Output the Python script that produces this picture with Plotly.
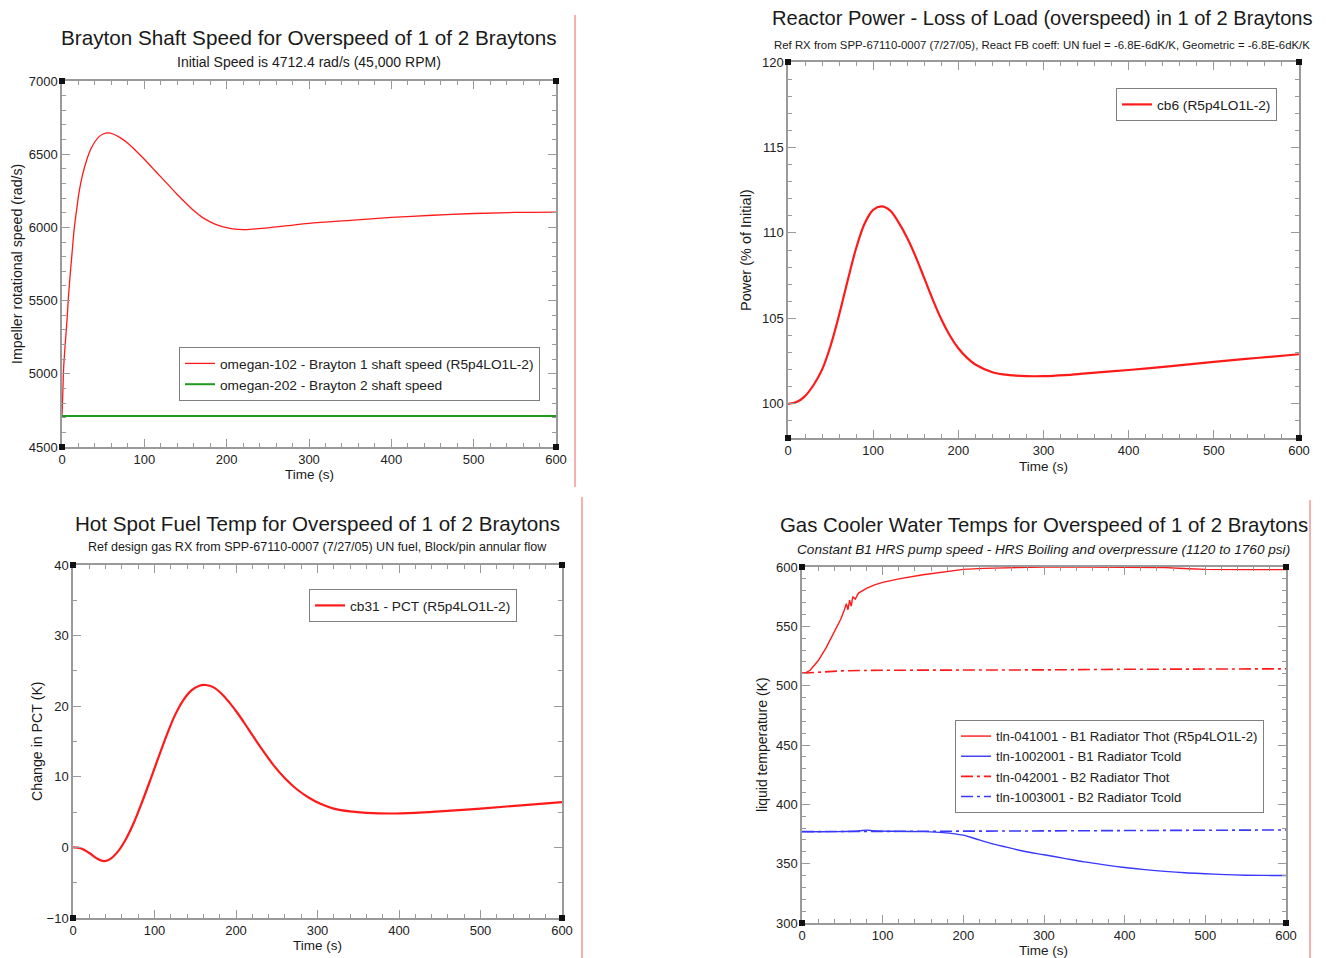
import plotly.graph_objects as go

W, H = 1326, 958
OFF = 8  # page body margin offset
FONT = "Liberation Sans"

# ---------------- Panel 1: Brayton shaft speed ----------------
t_speed1 = [0, 1, 2, 4, 6, 8, 10, 12, 15, 18, 21, 25, 30, 35, 40, 45, 50, 56, 62, 70, 80, 90,
            100, 110, 120, 130, 140, 150, 160, 170, 180, 190, 200, 210, 220, 235, 250, 275,
            300, 350, 400, 450, 500, 550, 600]
speed1 = [4712, 4870, 5040, 5210, 5360, 5540, 5680, 5810, 6000, 6130, 6250, 6360, 6460, 6535,
          6585, 6620, 6638, 6645, 6638, 6615, 6575, 6522, 6465, 6405, 6345, 6285, 6225, 6168,
          6115, 6070, 6038, 6014, 5998, 5988, 5985, 5990, 5997, 6012, 6027, 6048, 6068, 6083,
          6095, 6102, 6105]
t_speed2 = [0, 600]
speed2 = [4712.4, 4712.4]

# ---------------- Panel 2: Reactor power ----------------
t_power = [0, 10, 20, 30, 40, 50, 60, 70, 80, 90, 100, 110, 120, 130, 140, 150, 160, 170, 180,
           190, 200, 210, 220, 240, 260, 280, 300, 325, 350, 400, 450, 500, 550, 600]
power = [100.0, 100.1, 100.45, 101.1, 102.0, 103.4, 105.2, 107.2, 109.1, 110.55, 111.35, 111.55,
         111.3, 110.6, 109.7, 108.6, 107.35, 106.1, 104.95, 104.0, 103.25, 102.7, 102.3, 101.85,
         101.68, 101.62, 101.62, 101.68, 101.78, 101.98, 102.2, 102.45, 102.68, 102.9]

# ---------------- Panel 3: Hot spot fuel temp ----------------
t_pct = [0, 10, 20, 30, 38, 45, 55, 65, 75, 85, 95, 105, 115, 125, 135, 145, 155, 163, 172, 182,
         192, 202, 215, 230, 245, 260, 275, 290, 305, 320, 340, 360, 390, 420, 450, 500, 550, 600]
pct = [0, -0.15, -0.8, -1.6, -1.95, -1.7, -0.6, 1.2, 3.6, 6.5, 9.6, 12.8, 15.9, 18.7, 20.8, 22.2,
       22.9, 23.0, 22.7, 21.8, 20.5, 19.0, 16.8, 14.2, 11.8, 9.8, 8.2, 7.0, 6.1, 5.5, 5.1, 4.9,
       4.8, 4.9, 5.1, 5.5, 5.95, 6.4]

# ---------------- Panel 4: Gas cooler water temps ----------------
t_b1hot = [0, 5, 10, 20, 30, 40, 48, 52, 55, 57, 59, 61, 63, 66, 70, 80, 90, 100, 120, 150, 175,
           200, 225, 250, 300, 350, 400, 450, 480, 500, 550, 600]
b1hot = [510.5, 511, 513, 521, 532, 545, 556, 563, 569, 564, 572, 567, 575, 573, 578, 582, 585,
         587, 590, 593.5, 596, 598, 598.8, 599.3, 600, 600, 599.8, 599.5, 598.5, 598, 597.8, 597.8]
t_b1cold = [0, 40, 70, 80, 90, 120, 150, 175, 200, 215, 230, 250, 275, 300, 325, 350, 375, 400,
            425, 450, 475, 500, 525, 550, 575, 600]
b1cold = [377, 377, 377.5, 378.3, 377.6, 377.2, 377, 376.2, 374, 371, 368, 364.5, 360.5, 357.5,
          354.5, 351.5, 349, 346.8, 345, 343.5, 342.3, 341.5, 340.8, 340.3, 340.1, 340]
t_b2hot = [0, 20, 50, 100, 200, 300, 400, 500, 600]
b2hot = [510.5, 511.5, 512.5, 513, 513, 513.3, 513.8, 514, 514.2]
t_b2cold = [0, 100, 200, 300, 400, 500, 600]
b2cold = [377, 377, 377.3, 377.6, 377.9, 378.2, 378.4]

# ---------------- figure ----------------
RED = "#ff1a1a"
GREEN = "#1f9a1f"
BLUE = "#3838ff"


def PX(x):
    return (x - OFF) / W


def PY(y):
    return 1 - (y - OFF) / H


fig = go.Figure()
fig.add_trace(go.Scatter(x=t_speed1, y=speed1, mode="lines", line=dict(color=RED, width=1.3, shape="spline"),
                         name="omegan-102 - Brayton 1 shaft speed (R5p4LO1L-2)", xaxis="x", yaxis="y", legend="legend"))
fig.add_trace(go.Scatter(x=t_speed2, y=speed2, mode="lines", line=dict(color=GREEN, width=2),
                         name="omegan-202 - Brayton 2 shaft speed", xaxis="x", yaxis="y", legend="legend"))
fig.add_trace(go.Scatter(x=t_power, y=power, mode="lines", line=dict(color=RED, width=2.2, shape="spline"),
                         name="cb6 (R5p4LO1L-2)", xaxis="x2", yaxis="y2", legend="legend2"))
fig.add_trace(go.Scatter(x=t_pct, y=pct, mode="lines", line=dict(color=RED, width=2.2, shape="spline"),
                         name="cb31 - PCT (R5p4LO1L-2)", xaxis="x3", yaxis="y3", legend="legend3"))
fig.add_trace(go.Scatter(x=t_b1hot, y=b1hot, mode="lines", line=dict(color=RED, width=1.4),
                         name="tln-041001 - B1 Radiator Thot (R5p4LO1L-2)", xaxis="x4", yaxis="y4", legend="legend4"))
fig.add_trace(go.Scatter(x=t_b1cold, y=b1cold, mode="lines", line=dict(color=BLUE, width=1.4, shape="spline"),
                         name="tln-1002001 - B1 Radiator Tcold", xaxis="x4", yaxis="y4", legend="legend4"))
fig.add_trace(go.Scatter(x=t_b2hot, y=b2hot, mode="lines", line=dict(color=RED, width=1.6, dash="12px,4px,3px,4px"),
                         name="tln-042001 - B2 Radiator Thot", xaxis="x4", yaxis="y4", legend="legend4"))
fig.add_trace(go.Scatter(x=t_b2cold, y=b2cold, mode="lines", line=dict(color=BLUE, width=1.6, dash="12px,4px,3px,4px"),
                         name="tln-1003001 - B2 Radiator Tcold", xaxis="x4", yaxis="y4", legend="legend4"))

AXC = "#9a9a9a"
TICKFONT = dict(family=FONT, size=13, color="#222")


def xax(px0, px1, anchor):
    return dict(domain=[PX(px0), PX(px1)], range=[0, 600], tick0=0, dtick=100,
                ticks="inside", ticklen=8, tickwidth=1, tickcolor=AXC,
                showline=True, linecolor=AXC, linewidth=1.5, mirror="ticks",
                showgrid=False, zeroline=False, anchor=anchor, automargin=False,
                tickfont=TICKFONT,
                minor=dict(ticks="inside", ticklen=4, dtick=20, tickcolor=AXC, showgrid=False))


def yax(py_top, py_bot, rng, dtick, mdtick, anchor, tick0=None):
    return dict(domain=[PY(py_bot), PY(py_top)], range=rng,
                tick0=rng[0] if tick0 is None else tick0, dtick=dtick,
                ticks="inside", ticklen=8, tickwidth=1, tickcolor=AXC,
                showline=True, linecolor=AXC, linewidth=1.5, mirror="ticks",
                showgrid=False, zeroline=False, anchor=anchor, automargin=False,
                tickfont=TICKFONT,
                minor=dict(ticks="inside", ticklen=4, dtick=mdtick, tickcolor=AXC, showgrid=False))


layout = dict(
    width=W, height=H, margin=dict(l=0, r=0, t=0, b=0),
    paper_bgcolor="white", plot_bgcolor="white",
    font=dict(family=FONT, color="#222"),
    xaxis=xax(62, 556, "y"), yaxis=yax(81, 447, [4500, 7000], 500, 100, "x"),
    xaxis2=xax(788, 1299, "y2"), yaxis2=yax(62, 438, [98, 120], 5, 1, "x2", tick0=100),
    xaxis3=xax(73, 562, "y3"), yaxis3=yax(565, 918, [-10, 40], 10, 5, "x3"),
    xaxis4=xax(802, 1286, "y4"), yaxis4=yax(567, 923, [300, 600], 50, 10, "x4"),
)


def leg(px_right, py_top, size=13):
    return dict(x=PX(px_right), y=PY(py_top), xanchor="right", yanchor="top",
                bgcolor="white", bordercolor="#808080", borderwidth=1,
                font=dict(family=FONT, size=size, color="#222"), tracegroupgap=0, itemwidth=30)


layout["legend"] = leg(540, 347, 13.7)
layout["legend2"] = leg(1277, 88, 13.7)
layout["legend3"] = leg(517, 589, 13.7)
layout["legend4"] = leg(1264, 720, 13.2)
layout["showlegend"] = True
fig.update_layout(**layout)

ann = []


def text(s, px, py, size, italic=False, angle=0):
    ann.append(dict(text=("<i>%s</i>" % s) if italic else s, x=PX(px), y=PY(py),
                    xref="paper", yref="paper", showarrow=False, xanchor="center", yanchor="middle",
                    textangle=angle, font=dict(family=FONT, size=size, color="#1a1a1a")))


text("Brayton Shaft Speed for Overspeed of 1 of 2 Braytons", 309, 38, 20.7)
text("Initial Speed is 4712.4 rad/s (45,000 RPM)", 309, 62, 14)
text("Reactor Power - Loss of Load (overspeed) in 1 of 2 Braytons", 1042, 18, 20.1)
text("Ref RX from SPP-67110-0007 (7/27/05), React FB coeff: UN fuel = -6.8E-6dK/K, Geometric = -6.8E-6dK/K", 1042, 45, 11.4)
text("Hot Spot Fuel Temp for Overspeed of 1 of 2 Braytons", 317.5, 523, 20.6)
text("Ref design gas RX from SPP-67110-0007 (7/27/05) UN fuel, Block/pin annular flow", 317.5, 547, 12.5)
text("Gas Cooler Water Temps for Overspeed of 1 of 2 Braytons", 1043.5, 525, 20.4)
text("Constant B1 HRS pump speed - HRS Boiling and overpressure (1120 to 1760 psi)", 1043.5, 549, 13.6, italic=True)

text("Time (s)", 309, 474, 13.5)
text("Impeller rotational speed (rad/s)", 17, 264, 14.2, angle=-90)
text("Time (s)", 1043, 467, 13.5)
text("Power (% of Initial)", 746, 250, 14.5, angle=-90)
text("Time (s)", 317, 945, 13.5)
text("Change in PCT (K)", 37, 741, 14.2, angle=-90)
text("Time (s)", 1043, 950, 13.5)
text("liquid temperature (K)", 762, 745, 14, angle=-90)

fig.update_layout(annotations=ann)

shapes = []
for xa, ya in [("x", "y"), ("x2", "y2"), ("x3", "y3"), ("x4", "y4")]:
    for cx in (0, 1):
        for cy in (0, 1):
            shapes.append(dict(type="rect", xref=xa + " domain", yref=ya + " domain",
                               xsizemode="pixel", ysizemode="pixel", xanchor=cx, yanchor=cy,
                               x0=-3, x1=3, y0=-3, y1=3, fillcolor="#111", line=dict(width=0)))

# slide separator lines (red)
for px, py0, py1 in [(575, 15, 487), (1322, 8, 480), (582, 497, 958), (1310, 500, 958)]:
    shapes.append(dict(type="line", xref="paper", yref="paper", x0=PX(px), x1=PX(px),
                       y0=PY(py1), y1=PY(py0), line=dict(color="#f06060", width=1)))

fig.update_layout(shapes=shapes)
fig.write_html("out.html")
